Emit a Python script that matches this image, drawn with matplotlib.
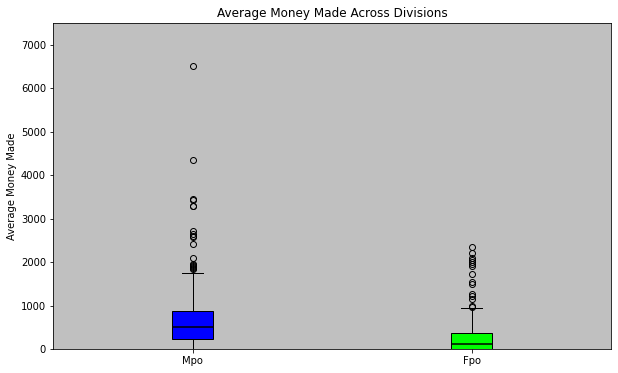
import matplotlib
matplotlib.use("Agg")
import matplotlib.pyplot as plt

labels = ["Mpo", "Fpo"]
q1 = [230, 10]
med = [510, 115]
q3 = [870, 375]
whislo = [0, 0]
whishi = [1745, 935]
fliers_mpo = [6520, 4340, 3440, 3420, 3300, 3280, 2720, 2650, 2600, 2570, 2410, 2100,
              1960, 1930, 1900, 1880, 1860, 1850]
fliers_fpo = [2350, 2200, 2100, 2050, 2000, 1950, 1900, 1720, 1540, 1500, 1270, 1220,
              1150, 990, 970]
fliers = [fliers_mpo, fliers_fpo]
colors = ["blue", "lime"]

stats = []
for i in range(len(labels)):
    stats.append(dict(label=labels[i], q1=q1[i], med=med[i], q3=q3[i],
                      whislo=whislo[i], whishi=whishi[i], fliers=fliers[i]))

fig = plt.figure(figsize=(618 / 72, 373 / 72), dpi=72)
ax = fig.add_axes([53 / 618, 24 / 373, 558 / 618, 326 / 373])
ax.set_facecolor("silver")
bp = ax.bxp(stats, widths=0.15, patch_artist=True,
            medianprops=dict(color="black", lw=1.5),
            flierprops=dict(marker="o", markerfacecolor="none", markeredgecolor="black"))
for patch, c in zip(bp["boxes"], colors):
    patch.set_facecolor(c)
ax.set_ylim(0, 7500)
ax.set_xlim(0.5, 2.5)
ax.set_ylabel("Average Money Made")
ax.set_title("Average Money Made Across Divisions")
fig.savefig("out.png")
